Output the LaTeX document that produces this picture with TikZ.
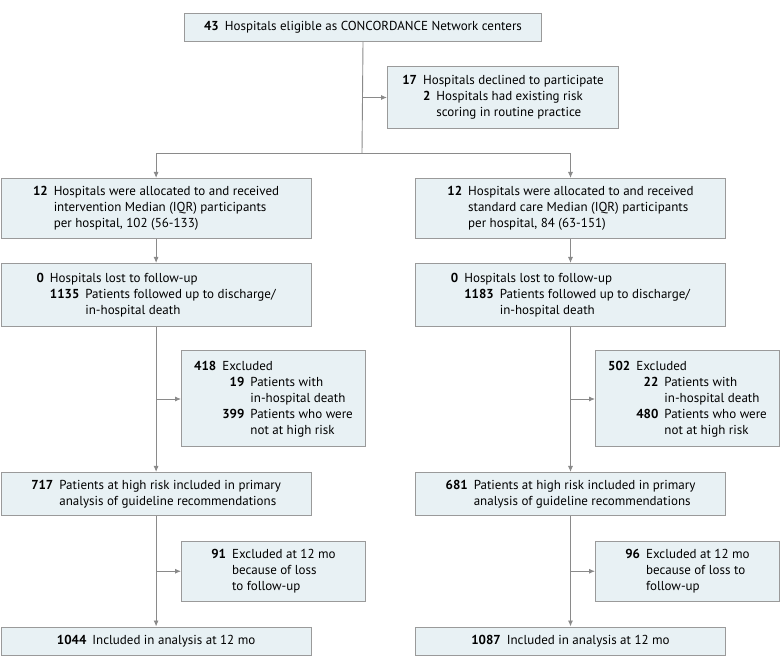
\documentclass[tikz,border=0pt]{standalone}
\usepackage{fontspec}
\setmainfont{PT Sans}
\usetikzlibrary{arrows.meta}
\usepackage{xcolor}
\definecolor{boxfill}{HTML}{E8F1F4}
\definecolor{boxline}{HTML}{9A9A9A}
\definecolor{flowline}{HTML}{8A8A8A}

% bold count followed by its text, continuation lines hang under the text
\newcommand{\nrow}[2]{\begin{tabular}[t]{@{}r@{\hspace{6pt}}l@{}}\textbf{#1} & #2\end{tabular}}

\tikzset{
  fbox/.style={draw=boxline, fill=boxfill, line width=1pt, inner sep=0pt, anchor=north west, font=\fontsize{13}{16}\selectfont},
  ln/.style={draw=flowline, line width=0.9pt},
  arr/.style={ln, -{Latex[length=6pt,width=5pt]}}
}

\begin{document}
\begin{tikzpicture}[x=1pt,y=-1pt]
\useasboundingbox (0,0) rectangle (780,668);

% top of the chart
\node[fbox, minimum width=357pt, minimum height=28pt] (elig) at (184,13) {\nrow{43}{Hospitals eligible as CONCORDANCE Network centers}};
\node[fbox, minimum width=231pt, minimum height=62pt] (decl) at (387,66) {\nrow{17}{Hospitals declined to participate\\ & \nrow{2}{Hospitals had existing risk\\ & scoring in routine practice}}};
\coordinate (split) at (362,153);

% intervention arm
\node[fbox, minimum width=310pt, minimum height=60pt] (ialloc) at (0.6,178) {\nrow{12}{Hospitals were allocated to and received\\ & intervention Median (IQR) participants\\ & per hospital, 102 (56-133)}};
\node[fbox, minimum width=310pt, minimum height=63pt] (ifollow) at (0.6,263) {\nrow{0}{Hospitals lost to follow-up\\ & \nrow{1135}{Patients followed up to discharge/\\ & in-hospital death}}};
\node[fbox, minimum width=184pt, minimum height=96pt] (iexcl) at (181,350.5) {\nrow{418}{Excluded\\ & \nrow{19}{Patients with\\ & in-hospital death\\ \textbf{399} & Patients who were\\ & not at high risk}}};
\node[fbox, minimum width=310pt, minimum height=43.5pt] (irisk) at (0.6,472) {\nrow{717}{Patients at high risk included in primary\\ & analysis of guideline recommendations}};
\node[fbox, minimum width=184pt, minimum height=59.5pt] (iloss) at (181,541) {\nrow{91}{Excluded at 12 mo\\ & because of loss\\ & to follow-up}};
\node[fbox, minimum width=310pt, minimum height=28pt] (ifinal) at (0.6,626.5) {\nrow{1044}{Included in analysis at 12 mo}};

% standard care arm
\node[fbox, minimum width=310pt, minimum height=60pt] (salloc) at (415,178) {\nrow{12}{Hospitals were allocated to and received\\ & standard care Median (IQR) participants\\ & per hospital, 84 (63-151)}};
\node[fbox, minimum width=310pt, minimum height=63pt] (sfollow) at (415,263) {\nrow{0}{Hospitals lost to follow-up\\ & \nrow{1183}{Patients followed up to discharge/\\ & in-hospital death}}};
\node[fbox, minimum width=184pt, minimum height=96pt] (sexcl) at (595,350.5) {\nrow{502}{Excluded\\ & \nrow{22}{Patients with\\ & in-hospital death\\ \textbf{480} & Patients who were\\ & not at high risk}}};
\node[fbox, minimum width=310pt, minimum height=43.5pt] (srisk) at (415,472) {\nrow{681}{Patients at high risk included in primary\\ & analysis of guideline recommendations}};
\node[fbox, minimum width=184pt, minimum height=59.5pt] (sloss) at (595,541) {\nrow{96}{Excluded at 12 mo\\ & because of loss to\\ & follow-up}};
\node[fbox, minimum width=310pt, minimum height=28pt] (sfinal) at (415,626.5) {\nrow{1087}{Included in analysis at 12 mo}};

% connectors
\draw[ln] (elig.south) -- (split);
\draw[arr] (elig.south |- decl.west) -- (decl.west);
\draw[arr] (split) -| (ialloc.north);
\draw[arr] (split) -| (salloc.north);
\foreach \arm in {i,s} {
 \draw[arr] (\arm alloc) -- (\arm follow);
 \draw[arr] (\arm follow) -- (\arm risk);
 \draw[arr] (\arm follow.south |- \arm excl.west) -- (\arm excl.west);
 \draw[arr] (\arm risk) -- (\arm final);
 \draw[arr] (\arm risk.south |- \arm loss.west) -- (\arm loss.west);
}
\end{tikzpicture}
\end{document}
